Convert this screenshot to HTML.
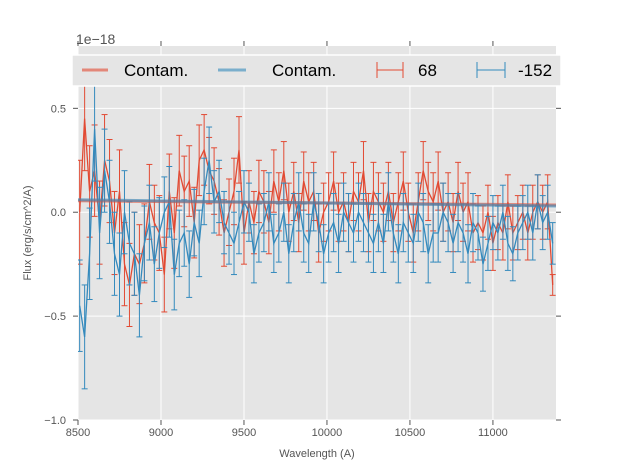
<!DOCTYPE html>
<html><head><meta charset="utf-8"><style>
body{margin:0;background:#fff;}
svg{display:block;font-family:"Liberation Sans","DejaVu Sans",sans-serif;}
</style></head><body>
<svg id="chart" width="617" height="467">
<defs><clipPath id="clip"><rect x="78" y="46" width="478" height="374"/></clipPath></defs>
<rect x="78" y="46" width="478" height="374" fill="#e5e5e5"/>
<g id="grid"></g><g id="series" clip-path="url(#clip)"></g><g id="axes"></g>
<text x="76" y="44" font-size="14" fill="#555">1e−18</text>
<text x="317" y="457" font-size="11" fill="#555" text-anchor="middle">Wavelength (A)</text>
<text transform="translate(31,233) rotate(-90)" font-size="11" fill="#555" text-anchor="middle">Flux (erg/s/cm^2/A)</text>
<g>
<rect x="72" y="55" width="489" height="31" fill="#e5e5e5" stroke="#fff" stroke-width="1.5"/>
<g><line x1="82" y1="70" x2="108" y2="70" stroke="#E24A33" stroke-width="3" opacity="0.6"/><text x="124" y="76" font-size="17">Contam.</text></g>
<g><line x1="218" y1="70" x2="246" y2="70" stroke="#348ABD" stroke-width="3" opacity="0.6"/><text x="272" y="76" font-size="17">Contam.</text></g>
<g><line x1="377" y1="70" x2="403" y2="70" stroke="#E24A33"/><line x1="377" y1="62" x2="377" y2="78" stroke="#E24A33"/><line x1="403" y1="62" x2="403" y2="78" stroke="#E24A33"/><text x="418" y="76" font-size="17">68</text></g>
<g><line x1="477" y1="70" x2="505" y2="70" stroke="#348ABD"/><line x1="477" y1="62" x2="477" y2="78" stroke="#348ABD"/><line x1="505" y1="62" x2="505" y2="78" stroke="#348ABD"/><text x="518" y="76" font-size="17">-152</text></g>
</g>
</svg>
<script>
const xTicks=[8500,9000,9500,10000,10500,11000];
const yTicks=[0.5,0.0,-0.5,-1.0];
const yTickLabels=["0.5","0.0","−0.5","−1.0"];
const xStart=8510, xStep=30;
const redFlux=[0.0,0.45,0.1,0.2,-0.05,0.25,0.15,-0.1,0.1,-0.25,-0.35,-0.2,-0.25,-0.15,0.05,-0.05,-0.1,-0.3,0.1,-0.1,
0.2,0.1,0.15,-0.05,0.25,0.3,0.2,0.15,0.05,-0.1,0.0,0.1,0.3,-0.1,0.05,-0.05,0.1,0.05,-0.05,0.15,
0.05,0.2,0.0,0.1,-0.05,0.15,0.05,0.1,-0.1,0.0,0.05,0.15,0.0,0.05,-0.05,0.1,0.05,0.2,-0.05,0.1,
0.05,0.0,0.1,-0.05,0.05,0.15,0.0,-0.1,0.05,0.2,0.1,0.05,0.15,0.0,0.05,-0.05,0.1,0.0,0.05,-0.1,
-0.05,-0.1,0.0,-0.15,-0.05,-0.1,0.05,-0.1,-0.05,0.0,-0.1,0.0,0.05,0.0,0.05,-0.35];
const blueFlux=[-0.45,-0.6,-0.2,0.4,-0.1,0.2,0.05,-0.2,-0.3,0.0,-0.15,-0.2,-0.4,-0.15,-0.05,-0.25,-0.1,0.0,0.05,-0.3,
-0.15,-0.1,-0.25,-0.05,-0.15,0.1,0.25,0.05,0.1,-0.05,-0.1,-0.15,-0.05,0.05,0.0,-0.2,-0.1,-0.05,0.05,-0.15,
-0.1,0.0,-0.2,-0.05,0.05,-0.1,-0.15,0.05,-0.05,-0.2,-0.1,-0.05,-0.15,0.0,-0.05,-0.1,0.0,-0.05,-0.1,-0.15,
-0.05,-0.15,0.05,-0.1,-0.2,-0.05,-0.1,-0.15,0.0,-0.05,-0.2,-0.1,-0.1,0.0,-0.05,-0.15,-0.05,-0.1,-0.2,-0.05,
-0.1,-0.25,-0.15,-0.05,-0.1,0.0,-0.15,-0.2,-0.1,-0.05,0.0,-0.1,0.05,-0.05,0.0,-0.15];
const redErr=[0.25,0.25,0.22,0.22,0.2,0.22,0.2,0.2,0.2,0.2,0.2,0.2,0.19,0.19,0.18,0.18,0.18,0.18,0.18,0.17,
0.17,0.17,0.17,0.17,0.17,0.17,0.16,0.16,0.16,0.16,0.16,0.16,0.16,0.15,0.15,0.15,0.15,0.15,0.15,0.15,
0.14,0.14,0.14,0.14,0.14,0.14,0.14,0.14,0.14,0.14,0.14,0.14,0.14,0.14,0.14,0.14,0.14,0.14,0.14,0.14,
0.14,0.14,0.14,0.14,0.14,0.14,0.14,0.14,0.14,0.14,0.14,0.14,0.14,0.14,0.14,0.14,0.14,0.14,0.14,0.14,
0.13,0.13,0.13,0.13,0.13,0.13,0.13,0.13,0.13,0.13,0.13,0.13,0.13,0.13,0.13,0.05];
const blueErr=[0.22,0.25,0.22,0.25,0.22,0.2,0.2,0.2,0.2,0.2,0.2,0.2,0.2,0.18,0.18,0.18,0.17,0.17,0.17,0.17,
0.16,0.16,0.16,0.16,0.16,0.16,0.16,0.15,0.15,0.15,0.15,0.15,0.15,0.15,0.14,0.14,0.14,0.14,0.14,0.14,
0.14,0.14,0.14,0.14,0.14,0.14,0.14,0.14,0.14,0.14,0.14,0.14,0.14,0.14,0.14,0.14,0.14,0.14,0.14,0.14,
0.14,0.14,0.14,0.14,0.14,0.14,0.14,0.14,0.14,0.14,0.14,0.14,0.14,0.14,0.14,0.14,0.14,0.14,0.14,0.14,
0.13,0.13,0.13,0.13,0.13,0.13,0.13,0.13,0.13,0.13,0.13,0.13,0.13,0.13,0.13,0.1];
const contamRed=[0.055,0.035];
const contamBlue=[0.06,0.03];
const xMin=8500,xMax=11380,yMin=-1.0,yMax=0.8;
const L=78,R=556,T=46,B=420;
const X=v=>L+(v-xMin)/(xMax-xMin)*(R-L);
const Y=v=>B-(v-yMin)/(yMax-yMin)*(B-T);
const NS="http://www.w3.org/2000/svg";
function mk(p,t,a){const e=document.createElementNS(NS,t);for(const k in a)e.setAttribute(k,a[k]);p.appendChild(e);return e;}
const grid=document.getElementById('grid'),axes=document.getElementById('axes'),ser=document.getElementById('series');
xTicks.forEach(t=>{const x=X(t);
const g=mk(grid,'line',{x1:x,x2:x,y1:T,y2:B,stroke:'#fff','stroke-width':1});


mk(axes,'line',{x1:x,x2:x,y1:B,y2:B+5,stroke:'#555'});
mk(axes,'line',{x1:x,x2:x,y1:T,y2:T-5,stroke:'#555'});
const tx=mk(axes,'text',{x:x,y:B+16,'font-size':11,fill:'#555','text-anchor':'middle'});tx.textContent=t;

});
yTicks.forEach((t,i)=>{const y=Y(t);
const g=mk(grid,'line',{x1:L,x2:R,y1:y,y2:y,stroke:'#fff','stroke-width':1});


mk(axes,'line',{x1:L-5,x2:L,y1:y,y2:y,stroke:'#555'});
mk(axes,'line',{x1:R,x2:R+5,y1:y,y2:y,stroke:'#555'});
const tx=mk(axes,'text',{x:L-12,y:y+4,'font-size':11,fill:'#555','text-anchor':'end'});tx.textContent=yTickLabels[i];

});
function series(vals,errs,color,name){
const g=mk(ser,'g',{});


let d='';
vals.forEach((v,i)=>{const x=X(xStart+i*xStep);d+=(i?'L':'M')+x.toFixed(1)+' '+Y(v).toFixed(1);
const y1=Y(v+errs[i]),y2=Y(v-errs[i]);
mk(g,'line',{x1:x,x2:x,y1:y1,y2:y2,stroke:color,'stroke-width':1});
mk(g,'line',{x1:x-3,x2:x+3,y1:y1,y2:y1,stroke:color});
mk(g,'line',{x1:x-3,x2:x+3,y1:y2,y2:y2,stroke:color});});
mk(g,'path',{d:d,fill:'none',stroke:color,'stroke-width':1.3});}
series(redFlux,redErr,'#E24A33','series-68');
series(blueFlux,blueErr,'#348ABD','series-minus152');
const c1=mk(ser,'line',{x1:L,x2:R,y1:Y(contamRed[0]),y2:Y(contamRed[1]),stroke:'#E24A33','stroke-width':3,opacity:0.6});


const c2=mk(ser,'line',{x1:L,x2:R,y1:Y(contamBlue[0]),y2:Y(contamBlue[1]),stroke:'#348ABD','stroke-width':3,opacity:0.6});


</script>
</body></html>
